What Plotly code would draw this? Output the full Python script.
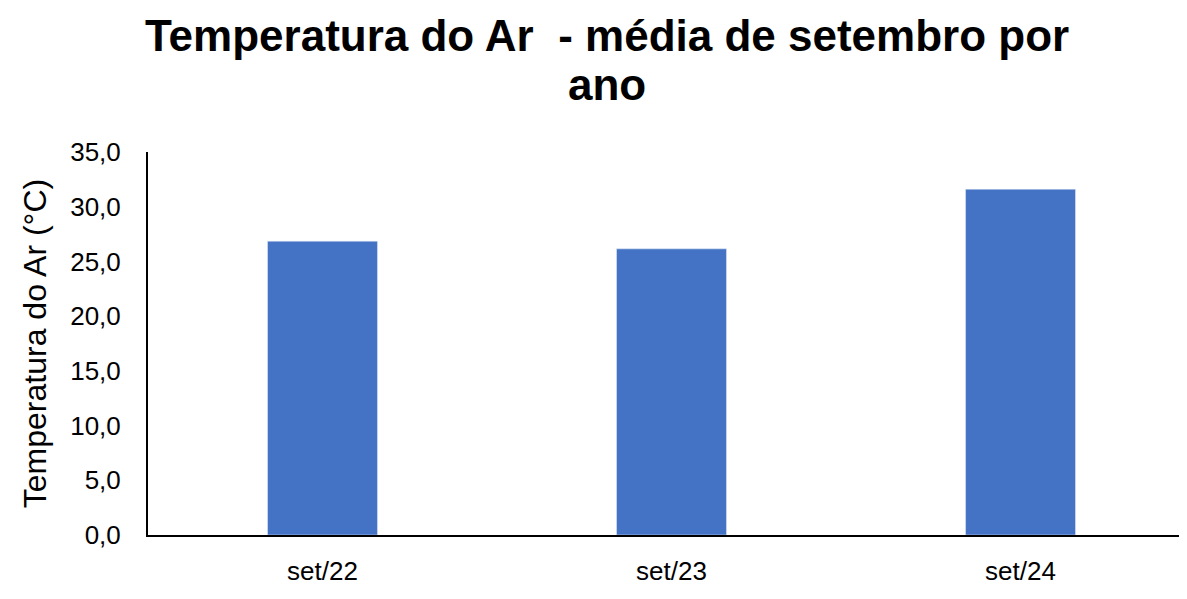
import plotly.graph_objects as go

# dados
meses = ['set/22', 'set/23', 'set/24']
temp_media = [26.85, 26.15, 31.6]

titulo_1 = '<b>Temperatura do Ar  - média de setembro por</b>'
titulo_2 = '<b>ano</b>'

fig = go.Figure()
fig.add_trace(go.Bar(x=meses, y=temp_media, marker_color='#4472C4', width=0.315))

# a página tem 8px de margem no body, por isso a figura é um pouco menor
fig.update_layout(
    width=1179, height=583,
    margin=dict(l=140, r=0, t=144, b=56),
    plot_bgcolor='white', paper_bgcolor='white',
    separators=',.',
    showlegend=False,
    font={'family': 'Liberation Sans', 'color': 'black'},
)
fig.add_annotation(text=titulo_1, xref='paper', yref='paper', x=0.4418, y=1.303,
                   xanchor='center', yanchor='middle', showarrow=False,
                   font={'size': 44, 'color': 'black'})
fig.add_annotation(text=titulo_2, xref='paper', yref='paper', x=0.4418, y=1.175,
                   xanchor='center', yanchor='middle', showarrow=False,
                   font={'size': 44, 'color': 'black'})
fig.update_yaxes(range=[0, 35], dtick=5, tickformat='.1f', showgrid=False,
                 showline=True, linecolor='black', linewidth=2, ticks='',
                 tickfont={'size': 26}, zeroline=False, ticklabelstandoff=20,
                 title={'text': 'Temperatura do Ar (°C)', 'font': {'size': 32}, 'standoff': 14})
fig.update_xaxes(range=[-0.5, 2.477], showline=True, linecolor='black', linewidth=2,
                 showgrid=False, ticks='', tickfont={'size': 26}, ticklabelstandoff=12)

fig.write_html("out.html")
